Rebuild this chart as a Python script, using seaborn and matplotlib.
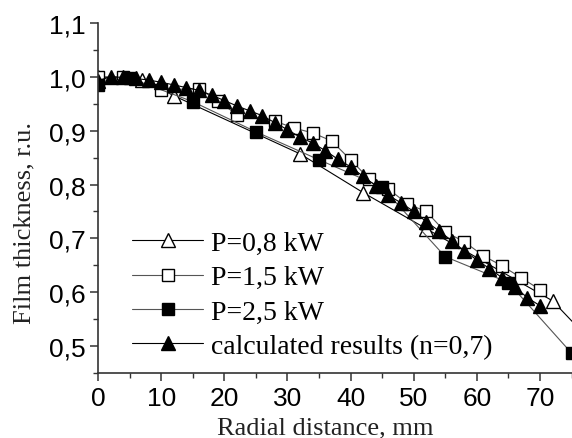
import matplotlib
matplotlib.use("Agg")
import matplotlib.pyplot as plt
import seaborn as sns
import numpy as np
from matplotlib.ticker import MultipleLocator, FuncFormatter

# ---- data ----
x_08 = [0, 7, 12, 32, 42, 52, 72, 82]
y_08 = [1.0, 0.995, 0.965, 0.857, 0.785, 0.718, 0.584, 0.461]

x_15 = [0, 4, 10, 16, 19, 22, 28, 31, 34, 37, 40, 43, 46, 49, 52, 55, 58, 61, 64, 67, 70]
y_15 = [1.0, 1.0, 0.976, 0.978, 0.955, 0.93, 0.918, 0.905, 0.896, 0.881, 0.846, 0.81,
        0.792, 0.764, 0.75, 0.712, 0.694, 0.668, 0.649, 0.627, 0.605]

x_25 = [0, 5, 15, 25, 35, 45, 55, 65, 75]
y_25 = [0.985, 0.998, 0.954, 0.898, 0.846, 0.795, 0.666, 0.618, 0.487]

x_calc = [0, 2, 4, 6, 8, 10, 12, 14, 16, 18, 20, 22, 24, 26, 28, 30, 32, 34, 36, 38,
          40, 42, 44, 46, 48, 50, 52, 54, 56, 58, 60, 62, 64, 66, 68, 70]
y_calc = [0.993, 1.0, 0.999, 0.997, 0.994, 0.99, 0.985, 0.98, 0.975, 0.966, 0.956,
          0.946, 0.937, 0.928, 0.915, 0.902, 0.888, 0.877, 0.863, 0.847, 0.833, 0.815,
          0.798, 0.78, 0.766, 0.75, 0.731, 0.714, 0.696, 0.677, 0.66, 0.644, 0.627,
          0.61, 0.59, 0.575]

labels = ["P=0,8 kW", "P=1,5 kW", "P=2,5 kW", "calculated results (n=0,7)"]
x_label = "Radial distance, mm"
y_label = "Film thickness, r.u."

sns.set_style("ticks")
plt.rcParams["font.family"] = ["Liberation Sans", "DejaVu Sans"]

fig = plt.figure(figsize=(5.72, 4.39), dpi=100)
ax = fig.add_axes([98 / 572, 1 - 374 / 439, (571.5 - 98) / 572, (374 - 24) / 439])

lw = 0.8
sns.lineplot(x=x_08, y=y_08, ax=ax, color="black", lw=lw, marker="^", markersize=10,
             markerfacecolor="white", markeredgecolor="black", markeredgewidth=1.0,
             label=labels[0], sort=False)
sns.lineplot(x=x_15, y=y_15, ax=ax, color="#555555", lw=lw, marker="s", markersize=8.5,
             markerfacecolor="white", markeredgecolor="black", markeredgewidth=1.0,
             label=labels[1], sort=False)
sns.lineplot(x=x_25, y=y_25, ax=ax, color="#555555", lw=lw, marker="s", markersize=8.5,
             markerfacecolor="black", markeredgecolor="black", markeredgewidth=1.0,
             label=labels[2], sort=False)
sns.lineplot(x=x_calc, y=y_calc, ax=ax, color="black", lw=lw, marker="^", markersize=10,
             markerfacecolor="black", markeredgecolor="black", markeredgewidth=1.0,
             label=labels[3], sort=False)

ax.set_xlim(0, 75)
ax.set_ylim(0.45, 1.1)
ax.xaxis.set_major_locator(MultipleLocator(10))
ax.xaxis.set_minor_locator(MultipleLocator(5))
ax.yaxis.set_major_locator(MultipleLocator(0.1))
ax.yaxis.set_minor_locator(MultipleLocator(0.05))
ax.yaxis.set_major_formatter(FuncFormatter(lambda v, p: f"{v:.1f}".replace(".", ",")))
ax.xaxis.set_major_formatter(FuncFormatter(lambda v, p: f"{v:.0f}"))

for s in ["top", "right"]:
    ax.spines[s].set_visible(False)
for s in ["left", "bottom"]:
    ax.spines[s].set_color("#333333")
    ax.spines[s].set_linewidth(1.2)

ax.tick_params(which="major", direction="out", length=6, width=1.1, color="#333333",
               labelsize=19, pad=3, labelcolor="black")
ax.tick_params(which="minor", direction="out", length=3.5, width=1.0, color="#333333")

ax.set_xlabel(x_label, family=["Liberation Serif"], fontsize=19, color="#222222")
ax.set_ylabel(y_label, family=["Liberation Serif"], fontsize=19, color="#222222")
ax.xaxis.set_label_coords(0.48, -0.123)
ax.yaxis.set_label_coords(-0.133, 0.43)

leg = ax.legend(loc="upper left", bbox_to_anchor=(0.0486, 0.4386), frameon=False,
                prop={"family": "Liberation Serif", "size": 20},
                handlelength=2.55, handletextpad=0.29, labelspacing=0.32,
                borderaxespad=0)
for t in leg.get_texts():
    t.set_color("black")

fig.savefig("out.png", dpi=100)
